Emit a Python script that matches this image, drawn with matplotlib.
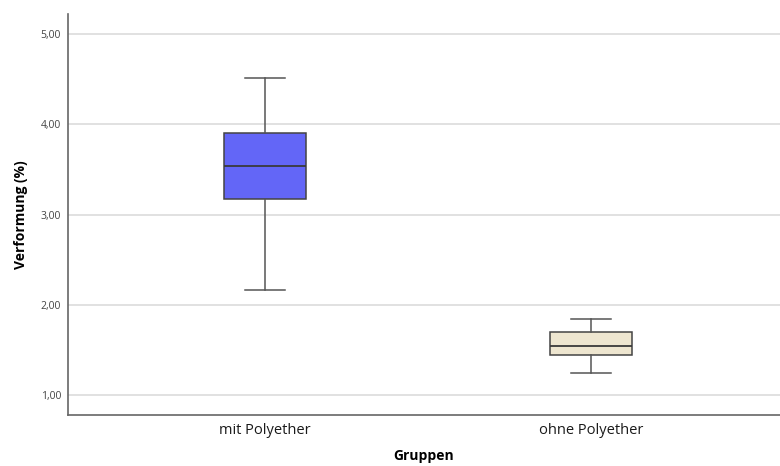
import matplotlib
matplotlib.use('Agg')
import matplotlib.pyplot as plt
from matplotlib.ticker import FuncFormatter

# Values (Verformung in %)
groups = ['mit Polyether', 'ohne Polyether']
whisker_low = [2.16, 1.25]
q1 = [3.17, 1.45]
median = [3.535, 1.545]
q3 = [3.90, 1.70]
whisker_high = [4.51, 1.84]
box_colors = ['#6366F7', '#EEE6D0']

y_ticks = [1.0, 2.0, 3.0, 4.0, 5.0]

plt.rcParams['font.family'] = ['Open Sans', 'DejaVu Sans']

fig = plt.figure(figsize=(7.8, 4.66), dpi=100)
ax = fig.add_axes([0.0872, 0.1094, 0.9128, 0.8605])

# Build stats dicts for bxp
stats = []
for i, name in enumerate(groups):
    stats.append({
        'label': name,
        'whislo': whisker_low[i],
        'q1': q1[i],
        'med': median[i],
        'q3': q3[i],
        'whishi': whisker_high[i],
        'fliers': [],
    })

# grid lines first so the boxes sit on top
for t in y_ticks:
    ax.axhline(t, color='#DCDCDC', linewidth=1.2, zorder=0)

bp = ax.bxp(stats, positions=[1, 2], widths=0.25, patch_artist=True,
            showfliers=False,
            boxprops=dict(edgecolor='#444444', linewidth=1.1),
            medianprops=dict(color='#3a3a3a', linewidth=1.3),
            whiskerprops=dict(color='#555555', linewidth=1.1),
            capprops=dict(color='#555555', linewidth=1.1),
            capwidths=0.125)
for patch, c in zip(bp['boxes'], box_colors):
    patch.set_facecolor(c)

ax.set_xlim(0.396, 2.58)
ax.set_ylim(0.78, 5.22)
ax.set_yticks(y_ticks)
ax.yaxis.set_major_formatter(FuncFormatter(lambda v, p: f'{v:.2f}'.replace('.', ',')))
ax.tick_params(axis='y', length=0, labelsize=7.5, colors='#444444', pad=5)
ax.tick_params(axis='x', length=0, labelsize=10.5, colors='#1a1a1a', pad=6)

for side in ['top', 'right']:
    ax.spines[side].set_visible(False)
for side in ['left', 'bottom']:
    ax.spines[side].set_color('#666666')
    ax.spines[side].set_linewidth(1.2)

ax.set_ylabel('Verformung (%)', fontsize=10, fontweight='bold', labelpad=9)
ax.set_xlabel('Gruppen', fontsize=10, fontweight='bold', labelpad=8)

plt.savefig('out.png', dpi=100)
